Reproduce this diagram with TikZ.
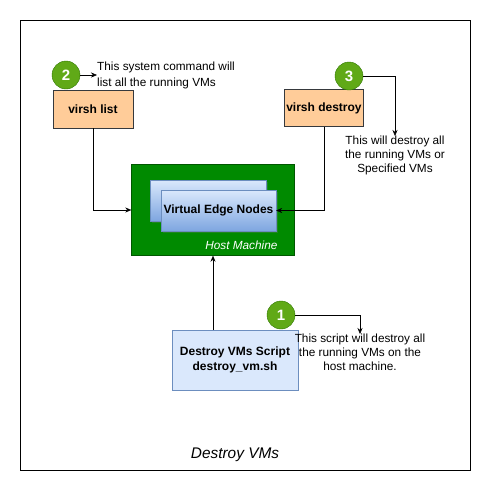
\documentclass[tikz,border=0pt]{standalone}
\usepackage{fontspec}
\setmainfont{Liberation Sans}
\usetikzlibrary{calc,arrows.meta,shadows}

\definecolor{hostgreen}{HTML}{008A00}
\definecolor{hostline}{HTML}{005700}
\definecolor{peach}{HTML}{FFCC99}
\definecolor{peachline}{HTML}{36393D}
\definecolor{vmtop}{HTML}{DAE8FC}
\definecolor{vmbottom}{HTML}{7EA6E0}
\definecolor{vmline}{HTML}{6C8EBF}
\definecolor{badgegreen}{HTML}{60A917}
\definecolor{badgeline}{HTML}{2D7600}

\tikzset{
    labelfont/.style={font=\fontsize{12}{15}\selectfont\bfseries},
    cmdbox/.style={draw=peachline, fill=peach, labelfont, inner sep=0pt},
    vmbox/.style={draw=vmline, top color=vmtop, bottom color=vmbottom, inner sep=0pt,
        drop shadow={opacity=0.25, shadow xshift=2pt, shadow yshift=-2pt}},
    badge/.style={circle, draw=badgeline, fill=badgegreen, text=white,
        font=\fontsize{15}{18}\selectfont\bfseries, minimum size=28pt, inner sep=0pt},
    note/.style={align=center, inner sep=0pt},
    arr/.style={-{Stealth[length=6pt,width=5pt]}, thin}
}

\begin{document}
\begin{tikzpicture}[x=1pt, y=-1pt, font=\fontsize{11.8}{14}\selectfont]

\pgfmathsetmacro\frameleft{20}
\pgfmathsetmacro\frameright{470}

\useasboundingbox (0,0) rectangle (491,491);
\draw (\frameleft,\frameleft) rectangle (\frameright,\frameright);

\node[draw=hostline, fill=hostgreen, minimum width=163pt, minimum height=91pt] (host) at (213,210) {};
\node[anchor=east, text=white, font=\fontsize{11.8}{14}\selectfont\itshape] (hostlabel) at (281,245) {Host Machine};
\node[vmbox, minimum width=116pt, minimum height=41pt] (vmback) at (208,200.5) {};
\node[vmbox, minimum width=115pt, minimum height=41pt, labelfont] (vmfront) at (218.5,210.5) {Virtual Edge Nodes};

\node[cmdbox, minimum width=80pt, minimum height=38pt] (list) at (93,109) {virsh list};
\node[cmdbox, minimum width=79pt, minimum height=37pt] (destroy) at (324,108) {virsh destroy};
\node[draw=vmline, fill=vmtop, labelfont, align=center, minimum width=126pt, minimum height=60pt] (script) at (235,360) {Destroy VMs Script\\destroy\_vm.sh};

\foreach \num/\px/\py in {1/281/315, 2/66/75, 3/349/76}
    \node[badge] (c\num) at (\px,\py) {\num};

\node[note, anchor=west, align=left, font=\fontsize{11.8}{16}\selectfont] (note2) at (97,75) {This system command will\\list all the running VMs};
\node[note, anchor=north] (note3) at (395,136) {This will destroy all\\the running VMs or\\Specified VMs};
\node[note, anchor=north] (note1) at (360,334) {This script will destroy all\\the running VMs on the\\host machine.};

\node[font=\fontsize{15.4}{18}\selectfont\itshape] (title) at (235,455) {Destroy VMs};

\draw[arr] (list.south) |- (host.west);
\draw[arr] (destroy.south) |- (vmfront.east);
\draw[arr] (script.north -| host.south) -- (host.south);
\draw[arr] (c2.east) -- (note2.west);
\draw[arr] (c3.east) -| (note3.north);
\draw[arr] (c1.east) -| (note1.north);

\end{tikzpicture}
\end{document}
